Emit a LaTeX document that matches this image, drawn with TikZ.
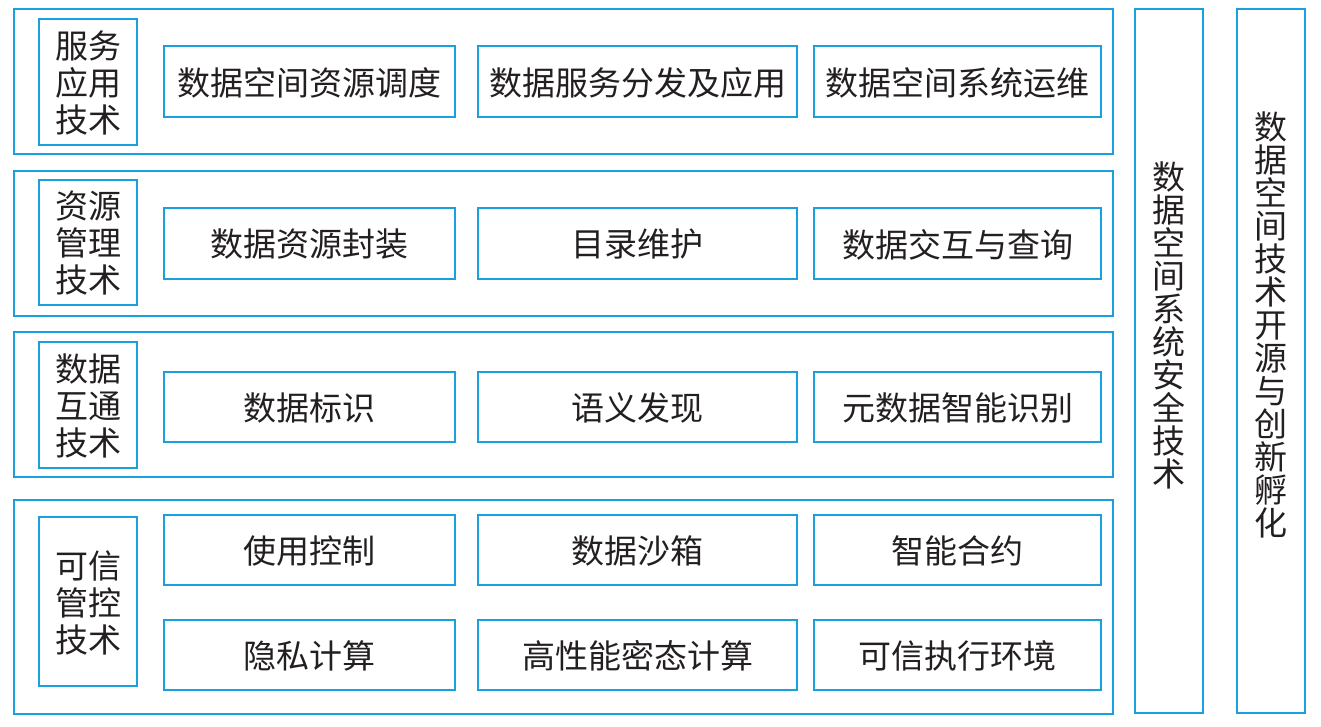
\documentclass[tikz,border=0pt]{standalone}
\usepackage{fontspec}
\setmainfont{Noto Sans CJK SC}
\definecolor{lineblue}{RGB}{27,160,222}
\definecolor{txt}{RGB}{35,31,32}
\tikzset{
  px/.style={x=1pt,y=-1pt},
  frame/.style={draw=lineblue,line width=2.6pt,inner sep=0pt,outer sep=0pt},
  itemtxt/.style={font=\fontsize{33}{34}\selectfont,text=txt},
  labtxt/.style={font=\fontsize{33}{37}\selectfont,text=txt,align=center},
  vtxt/.style={font=\fontsize{33}{33}\selectfont,text=txt,align=center},
}
\newcommand{\bx}[5]{\node[frame,minimum width=#4pt-#2pt,minimum height=#5pt-#3pt] (#1) at ({(#2+#4)/2},{(#3+#5)/2}) {};}
\begin{document}
\begin{tikzpicture}[px]
\useasboundingbox (0,0) rectangle (1321,727);
% rows outer
\bx{r1}{14}{9}{1113}{154}
\bx{r2}{14}{171}{1113}{316}
\bx{r3}{14}{332}{1113}{477}
\bx{r4}{14}{500}{1113}{714}
% label boxes
\bx{l1}{39}{19}{137}{145}
\bx{l2}{39}{180}{137}{305}
\bx{l3}{39}{342}{137}{468}
\bx{l4}{39}{517}{137}{686}
\node[labtxt] at ([yshift=-1pt]l1.center) {服务\\应用\\技术};
\node[labtxt] at ([yshift=-1pt]l2.center) {资源\\管理\\技术};
\node[labtxt] at ([yshift=-1pt]l3.center) {数据\\互通\\技术};
\node[labtxt] at ([yshift=-1pt]l4.center) {可信\\管控\\技术};
% items row 1
\bx{a1}{164}{46}{455}{117}
\bx{a2}{478}{46}{797}{117}
\bx{a3}{814}{46}{1101}{117}
\node[itemtxt] at ([yshift=-1pt]a1.center) {数据空间资源调度};
\node[itemtxt] at ([yshift=-1pt]a2.center) {数据服务分发及应用};
\node[itemtxt] at ([yshift=-1pt]a3.center) {数据空间系统运维};
% row 2
\bx{b1}{164}{208}{455}{279}
\bx{b2}{478}{208}{797}{279}
\bx{b3}{814}{208}{1101}{279}
\node[itemtxt] at ([yshift=-1pt]b1.center) {数据资源封装};
\node[itemtxt] at ([yshift=-1pt]b2.center) {目录维护};
\node[itemtxt] at ([yshift=-1pt]b3.center) {数据交互与查询};
% row 3
\bx{c1}{164}{372}{455}{442}
\bx{c2}{478}{372}{797}{442}
\bx{c3}{814}{372}{1101}{442}
\node[itemtxt] at ([yshift=-1pt]c1.center) {数据标识};
\node[itemtxt] at ([yshift=-1pt]c2.center) {语义发现};
\node[itemtxt] at ([yshift=-1pt]c3.center) {元数据智能识别};
% row 4
\bx{d1}{164}{515}{455}{585}
\bx{d2}{478}{515}{797}{585}
\bx{d3}{814}{515}{1101}{585}
\node[itemtxt] at ([yshift=-1pt]d1.center) {使用控制};
\node[itemtxt] at ([yshift=-1pt]d2.center) {数据沙箱};
\node[itemtxt] at ([yshift=-1pt]d3.center) {智能合约};
\bx{e1}{164}{620}{455}{690}
\bx{e2}{478}{620}{797}{690}
\bx{e3}{814}{620}{1101}{690}
\node[itemtxt] at ([yshift=-1pt]e1.center) {隐私计算};
\node[itemtxt] at ([yshift=-1pt]e2.center) {高性能密态计算};
\node[itemtxt] at ([yshift=-1pt]e3.center) {可信执行环境};
% right columns
\bx{s1}{1135}{9}{1203}{713}
\bx{s2}{1237}{9}{1305}{713}
\node[vtxt] at ({(1135+1203)/2},325) {数\\据\\空\\间\\系\\统\\安\\全\\技\\术};
\node[vtxt] at ({(1237+1305)/2},325) {数\\据\\空\\间\\技\\术\\开\\源\\与\\创\\新\\孵\\化};
\end{tikzpicture}
\end{document}
